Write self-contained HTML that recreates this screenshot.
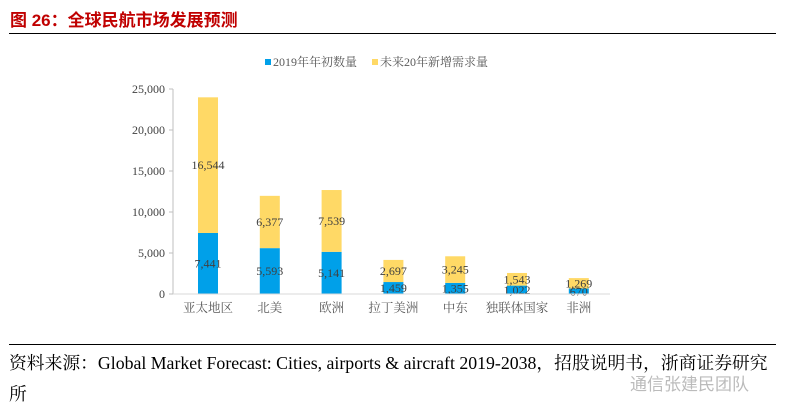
<!DOCTYPE html>
<html><head><meta charset="utf-8"><style>
body{margin:0;width:790px;height:415px;background:#fff;overflow:hidden;position:relative;font-family:"Liberation Serif","Noto Serif CJK SC",serif}
.t{position:absolute;left:10px;top:6px;font:bold 17px "Liberation Sans","Noto Sans CJK SC",sans-serif;color:#c00000}
.ln{position:absolute;left:9px;width:767px;height:1px;background:#000}
.src{position:absolute;left:9px;font-size:17.8px;color:#000;white-space:nowrap}
</style></head><body>
<div class="t">图 26：全球民航市场发展预测</div>
<div class="ln" style="top:33px"></div>
<svg id="c" width="790" height="415" style="position:absolute;left:0;top:0"></svg>
<div class="ln" style="top:344px"></div>
<div class="src" style="top:350px">资料来源：Global Market Forecast: Cities, airports &amp; aircraft 2019-2038，招股说明书，浙商证券研究</div>
<div class="src" style="top:381px">所</div>
<div style="position:absolute;left:630px;top:370px;font:17px 'Noto Sans CJK SC',sans-serif;color:#bbb">通信张建民团队</div>
<script>
const categories=["亚太地区","北美","欧洲","拉丁美洲","中东","独联体国家","非洲"];
const base2019=[7441,5593,5141,1459,1355,1022,670];
const newDemand=[16544,6377,7539,2697,3245,1543,1269];
const ticks=[0,5000,10000,15000,20000,25000];
const svg=document.getElementById('c');const NS='http://www.w3.org/2000/svg';
function el(t,a,txt){const e=document.createElementNS(NS,t);for(const k in a)e.setAttribute(k,a[k]);if(txt!=null)e.textContent=txt;svg.appendChild(e);return e;}
const y0=294,pxPer=205/25000;
const y=v=>y0-v*pxPer;
const x=i=>208+i*61.8;
const bw=20;
ticks.forEach(t=>{const e=el('text',{x:165,y:y(t)+4,'text-anchor':'end','font-size':12,fill:'#404040'},t.toLocaleString('en-US'));


const k=el('line',{x1:169,x2:173,y1:y(t),y2:y(t),stroke:'#bfbfbf'});

});
const ax=el('line',{x1:173,x2:173,y1:y(25000),y2:y0,stroke:'#bfbfbf'});


categories.forEach((c,i)=>{
const b=el('rect',{x:x(i)-bw/2,y:y(base2019[i]),width:bw,height:base2019[i]*pxPer,fill:'#00a0e9'});


const f=el('rect',{x:x(i)-bw/2,y:y(base2019[i]+newDemand[i]),width:bw,height:newDemand[i]*pxPer,fill:'#ffd966'});


const l1=el('text',{x:x(i),y:(y(0)+y(base2019[i]))/2+4,'text-anchor':'middle','font-size':12,fill:'#404040'},base2019[i].toLocaleString('en-US'));


const l2=el('text',{x:x(i),y:(y(base2019[i])+y(base2019[i]+newDemand[i]))/2+4,'text-anchor':'middle','font-size':12,fill:'#404040'},newDemand[i].toLocaleString('en-US'));


const cl=el('text',{x:x(i),y:312,'text-anchor':'middle','font-size':12.5,fill:'#595959'},c);


});
const bl=el('line',{x1:173,x2:610,y1:y0,y2:y0,stroke:'#d9d9d9'});


const s1=el('rect',{x:265,y:59,width:6,height:6,fill:'#00a0e9'});


const t1=el('text',{x:273,y:66,'font-size':12,fill:'#595959'},'2019年年初数量');


const s2=el('rect',{x:372,y:59,width:6,height:6,fill:'#ffd966'});


const t2=el('text',{x:380,y:66,'font-size':12,fill:'#595959'},'未来20年新增需求量');


</script>
</body></html>
